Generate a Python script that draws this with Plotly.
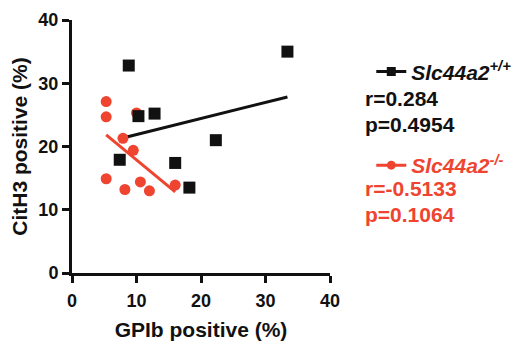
import numpy as np
import plotly.graph_objects as go

# Data
wt_x = [8.8, 33.4, 10.3, 12.8, 22.3, 7.4, 16.0, 18.2]
wt_y = [32.8, 35.0, 24.8, 25.2, 21.0, 17.9, 17.4, 13.5]
ko_x = [5.3, 5.3, 10.0, 7.9, 9.5, 5.3, 8.2, 10.6, 12.0, 16.0]
ko_y = [27.1, 24.7, 25.3, 21.3, 19.4, 14.9, 13.2, 14.4, 13.0, 13.9]
wt_name = "<b><i>Slc44a2</i></b><sup><b><i>+/+</i></b></sup>"
ko_name = "<b><i>Slc44a2</i></b><sup><b><i>-/-</i></b></sup>"
wt_stats = ["r=0.284", "p=0.4954"]
ko_stats = ["r=-0.5133", "p=0.1064"]
x_ticks = [0, 10, 20, 30, 40]
y_ticks = [0, 10, 20, 30, 40]

BLACK = "#111111"
RED = "#EE4430"
FONT = "Liberation Sans, Arial, sans-serif"


def fit_line(xs, ys):
    m, c = np.polyfit(xs, ys, 1)
    lx = np.array([min(xs), max(xs)])
    return lx, m * lx + c


fig = go.Figure()

# regression lines
for xs, ys, col in [(wt_x, wt_y, BLACK), (ko_x, ko_y, RED)]:
    lx, ly = fit_line(xs, ys)
    fig.add_trace(go.Scatter(x=lx, y=ly, mode="lines", line=dict(color=col, width=3),
                             showlegend=False, hoverinfo="skip"))

fig.add_trace(go.Scatter(x=ko_x, y=ko_y, mode="markers",
                         marker=dict(symbol="circle", size=11, color=RED),
                         showlegend=False))
fig.add_trace(go.Scatter(x=wt_x, y=wt_y, mode="markers",
                         marker=dict(symbol="square", size=12, color=BLACK),
                         showlegend=False))

# legend entries
fig.add_trace(go.Scatter(x=[None], y=[None], mode="lines+markers", name=wt_name,
                         line=dict(color=BLACK, width=3),
                         marker=dict(symbol="square", size=9, color=BLACK),
                         legend="legend"))
fig.add_trace(go.Scatter(x=[None], y=[None], mode="lines+markers", name=ko_name,
                         line=dict(color=RED, width=3),
                         marker=dict(symbol="circle", size=9, color=RED),
                         legend="legend2"))

axis_common = dict(
    showgrid=False, zeroline=False, showline=True, linecolor=BLACK, linewidth=3,
    ticks="outside", ticklen=7, tickwidth=3, tickcolor=BLACK,
    tickfont=dict(family=FONT, size=18, color=BLACK),
    range=[0, 40], automargin=False,
)

fig.update_xaxes(**axis_common, tickvals=x_ticks,
                 ticktext=[f"<b>{v}</b>" for v in x_ticks], ticklabelstandoff=2,
                 title=dict(text="<b>GPIb positive (%)</b>",
                            font=dict(family=FONT, size=21, color=BLACK), standoff=14))
fig.update_yaxes(**axis_common, tickvals=y_ticks,
                 ticktext=[f"<b>{v}</b>" for v in y_ticks],
                 title=dict(text="<b>CitH3 positive (%)</b>",
                            font=dict(family=FONT, size=21, color=BLACK), standoff=6))

legend_font = dict(family=FONT, size=21)
fig.update_layout(
    width=515, height=341,
    margin=dict(l=72, r=185, t=20, b=68, autoexpand=False),
    paper_bgcolor="white", plot_bgcolor="white",
    legend=dict(x=1.16, y=0.795, xanchor="left", yanchor="middle",
                font=dict(legend_font, color=BLACK), bgcolor="rgba(0,0,0,0)",
                itemwidth=30),
    legend2=dict(x=1.16, y=0.425, xanchor="left", yanchor="middle",
                 font=dict(legend_font, color=RED), bgcolor="rgba(0,0,0,0)",
                 itemwidth=30),
)

stat_font = dict(family=FONT, size=21)
stat_y = {"wt": [0.688, 0.585], "ko": [0.335, 0.232]}
for t, yy in zip(wt_stats, stat_y["wt"]):
    fig.add_annotation(text=f"<b>{t}</b>", xref="paper", yref="paper",
                       x=1.128, y=yy, xanchor="left", yanchor="middle",
                       showarrow=False, font=dict(stat_font, color=BLACK))
for t, yy in zip(ko_stats, stat_y["ko"]):
    fig.add_annotation(text=f"<b>{t}</b>", xref="paper", yref="paper",
                       x=1.128, y=yy, xanchor="left", yanchor="middle",
                       showarrow=False, font=dict(stat_font, color=RED))

fig.write_html("out.html", config={"displayModeBar": False},
               post_script="document.body.style.margin='0px';")
